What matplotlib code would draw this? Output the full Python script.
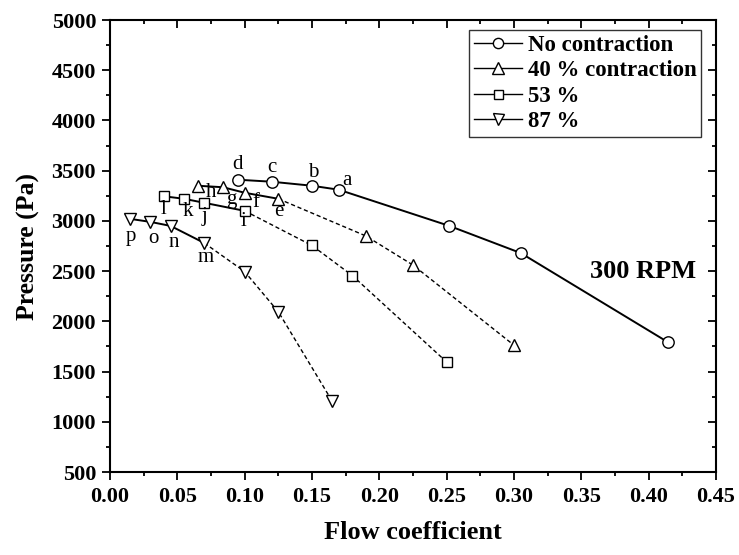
import matplotlib
matplotlib.use("Agg")
import matplotlib.pyplot as plt
from matplotlib.ticker import MultipleLocator, FormatStrFormatter
import matplotlib.lines as mlines

plt.rcParams['font.family'] = ['Liberation Serif', 'DejaVu Serif']

# No contraction
x_nc = [0.095, 0.12, 0.15, 0.17, 0.252, 0.305, 0.414]
y_nc = [3410, 3390, 3350, 3310, 2950, 2680, 1795]
lab_nc = ['d', 'c', 'b', 'a', '', '', '']
off_nc = [(0, 15), (0, 14), (1, 13), (8, 9), None, None, None]

# 40 % contraction
x_40 = [0.065, 0.084, 0.100, 0.125, 0.190, 0.225, 0.300]
y_40 = [3350, 3335, 3280, 3220, 2850, 2560, 1762]
lab_40 = ['h', 'g', 'f', 'e', '', '', '']
off_40 = [(14, -7), (8, -12), (11, -10), (0, -13), None, None, None]

# 53 %
x_53 = [0.040, 0.055, 0.070, 0.100, 0.150, 0.180, 0.250]
y_53 = [3245, 3220, 3180, 3100, 2755, 2455, 1595]
lab_53 = ['l', 'k', 'j', 'i', '', '', '']
off_53 = [(0, -13), (4, -13), (0, -14), (-1, -11), None, None, None]

# 87 %
x_87 = [0.015, 0.030, 0.045, 0.070, 0.100, 0.125, 0.165]
y_87 = [3020, 2990, 2950, 2780, 2495, 2095, 1205]
lab_87 = ['p', 'o', 'n', 'm', '', '', '']
off_87 = [(1, -18), (3, -17), (3, -17), (1, -15), None, None, None]

series = [
    ('No contraction', x_nc, y_nc, 'o', lab_nc, off_nc, 7),
    ('40 % contraction', x_40, y_40, '^', lab_40, off_40, 4),
    ('53 %', x_53, y_53, 's', lab_53, off_53, 4),
    ('87 %', x_87, y_87, 'v', lab_87, off_87, 4),
]

fig = plt.figure(figsize=(7.39, 5.55), dpi=100)
ax = fig.add_axes([110/739, 1 - 472/555, 606/739, 452/555])

msize = {'o': 8.2, '^': 8.8, 's': 7.2, 'v': 8.8}
px2pt = 72 / 100
for name, xs, ys, mk, labs, offs, nsolid in series:
    ax.plot(xs[:nsolid], ys[:nsolid], '-', color='black', lw=1.4, zorder=2)
    if nsolid < len(xs):
        ax.plot(xs[nsolid - 1:], ys[nsolid - 1:], '--', color='black', lw=1.0,
                dashes=(3, 2), zorder=2)
    ax.plot(xs, ys, linestyle='none', marker=mk, markersize=msize[mk],
            markerfacecolor='white', markeredgecolor='black', markeredgewidth=1.0,
            zorder=3)
    ax.plot([], [], '-', color='black', lw=1.0, marker=mk, markersize=msize[mk] * 0.9,
            markerfacecolor='white', markeredgecolor='black', label=name)
    for xv, yv, lb, of in zip(xs, ys, labs, offs):
        if lb:
            ax.annotate(lb, (xv, yv), xytext=(of[0] * px2pt, of[1] * px2pt),
                        textcoords='offset points', ha='center', va='center',
                        fontsize=15, zorder=4)

ax.set_xlim(0, 0.45)
ax.set_ylim(500, 5000)
ax.xaxis.set_major_locator(MultipleLocator(0.05))
ax.xaxis.set_minor_locator(MultipleLocator(0.025))
ax.yaxis.set_major_locator(MultipleLocator(500))
ax.yaxis.set_minor_locator(MultipleLocator(250))
ax.xaxis.set_major_formatter(FormatStrFormatter('%.2f'))

for sp in ax.spines.values():
    sp.set_linewidth(1.5)
ax.tick_params(which='both', direction='out', width=1.3, labelsize=16)
ax.tick_params(which='major', length=6)
ax.tick_params(which='minor', length=3.2)
ax.tick_params(axis='y', which='major', pad=4)
ax.tick_params(axis='x', which='major', pad=5)
ax.tick_params(which='both', top=True, right=True)
for lbl in ax.get_xticklabels() + ax.get_yticklabels():
    lbl.set_fontweight('bold')

for t in ax.xaxis.get_major_ticks() + ax.xaxis.get_minor_ticks():
    t.tick2line.set_marker(mlines.TICKDOWN)
for t in ax.yaxis.get_major_ticks() + ax.yaxis.get_minor_ticks():
    t.tick2line.set_marker(mlines.TICKLEFT)

ax.set_xlabel('Flow coefficient', fontsize=19, fontweight='bold', labelpad=10)
ax.set_ylabel('Pressure (Pa)', fontsize=18.5, fontweight='bold', labelpad=8)

ax.text(0.396, 2495, '300 RPM', fontsize=19, fontweight='bold', ha='center', va='center')

leg = ax.legend(loc='upper right', bbox_to_anchor=(0.975, 0.978),
                prop={'weight': 'bold', 'size': 16.5}, frameon=True, fancybox=False,
                edgecolor='black', handlelength=2.1, handletextpad=0.25,
                borderpad=0.2, labelspacing=0.2, borderaxespad=0.0)
leg.get_frame().set_linewidth(1.0)

fig.savefig('out.png', dpi=100)
